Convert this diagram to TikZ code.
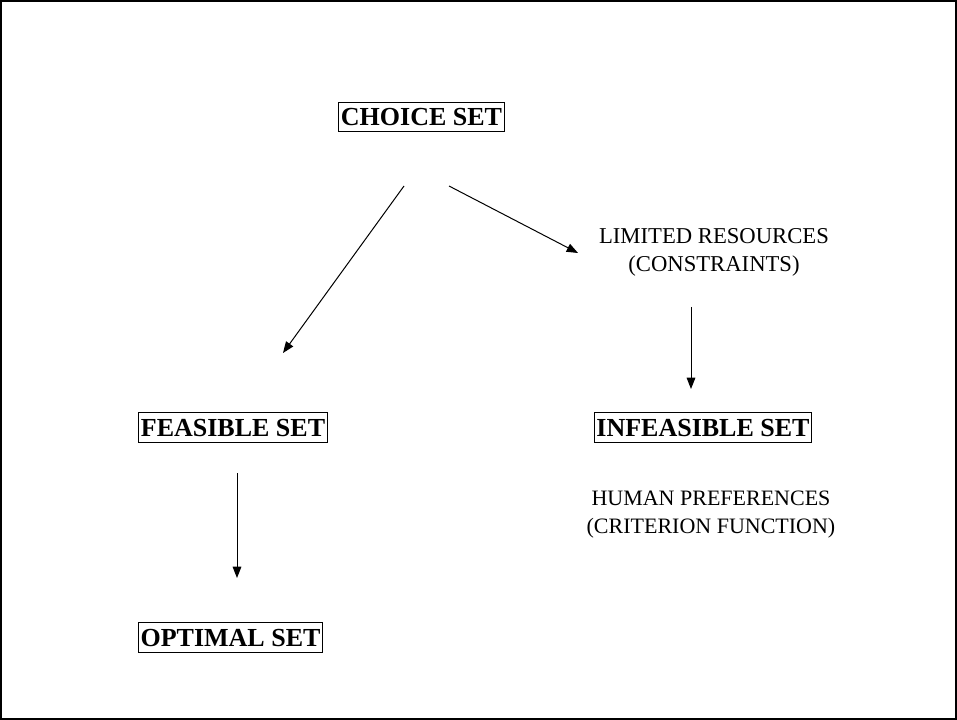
\documentclass[tikz,border=0pt]{standalone}
\usepackage{fontspec}
\setmainfont{Liberation Serif}
\usetikzlibrary{arrows.meta}
\begin{document}
\begin{tikzpicture}[x=0.75pt,y=-0.75pt,
  setbox/.style={draw,line width=0.75pt,inner xsep=1.5pt,inner ysep=0pt,
    text height=17.4pt,text depth=4.6pt,font=\fontsize{19.5}{22}\selectfont\bfseries},
  plain/.style={align=center,inner sep=0pt,font=\fontsize{17}{21}\selectfont},
  arr/.style={line width=0.75pt,-{Triangle[length=8.5pt,width=6.5pt]}}]
\useasboundingbox (0,0) rectangle (957,720);
\draw[line width=1.5pt] (1,1) rectangle (956,719);
\node[setbox] (choice) at (421.5,117) {CHOICE SET};
\node[setbox] (feasible) at (233,427.5) {FEASIBLE SET};
\node[setbox] (infeasible) at (703,427.5) {INFEASIBLE SET};
\node[setbox] (optimal) at (230.5,637.5) {OPTIMAL SET};
\node[plain] (limited) at (714,252) {LIMITED RESOURCES\\(CONSTRAINTS)};
\node[plain,font=\fontsize{16.5}{21}\selectfont] (human) at (711,514.5) {HUMAN PREFERENCES\\(CRITERION FUNCTION)};
\coordinate (a1s) at (404,186);
\coordinate (a1e) at (283,353);
\coordinate (a2s) at (449,186);
\coordinate (a2e) at (578,253);
\coordinate (a3s) at (691,307);
\coordinate (a3e) at (691,389);
\coordinate (a4s) at (237,473);
\coordinate (a4e) at (237,578);
\draw[arr] (a1s) -- (a1e);
\draw[arr] (a2s) -- (a2e);
\draw[arr] (a3s) -- (a3e);
\draw[arr] (a4s) -- (a4e);
\end{tikzpicture}
\end{document}
